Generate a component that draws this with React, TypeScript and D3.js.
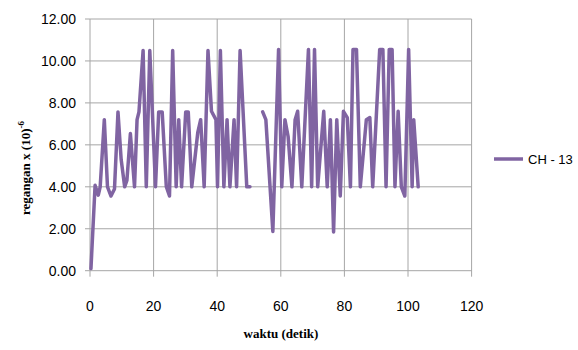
import React from "react";
import * as d3 from "d3";

const timeValues: (number)[] = [
  0.3, 1.6, 2.6, 3.2, 4.5, 5.5, 6.6, 7.7, 8.8, 9.8, 10.9, 11.6, 12.7, 14.0, 14.8, 15.4, 16.7, 17.7, 18.8,
  20.6, 21.6, 22.7, 24.0, 25.0, 26.0, 27.1, 27.9, 28.8, 30.1, 30.9, 32.0, 33.9, 34.8, 35.9, 37.1, 38.2,
  39.6, 40.1, 41.0, 42.1, 43.1, 44.0, 45.3, 46.1, 47.2, 49.3, 50.3, 52.0,
  54.3, 55.3, 57.5, 59.3, 60.3, 61.3, 62.3, 63.5, 64.5, 65.3, 66.6, 68.7, 69.7, 70.6, 71.6, 73.5, 74.6,
  75.6, 76.6, 77.6, 78.7, 79.7, 80.9, 81.9, 82.7, 83.8, 85.0, 86.9, 88.0, 88.9, 91.1, 92.1, 93.1, 94.1,
  95.0, 95.9, 96.9, 97.9, 99.0, 100.2, 101.3, 101.8, 103.2,
];

const strainValues: (number | null)[] = [
  0.1, 4.07, 3.6, 4.0, 7.2, 4.0, 3.56, 3.9, 7.57, 5.3, 4.0, 4.3, 6.54, 4.0, 7.2, 7.57, 10.5, 4.0, 10.5,
  4.0, 7.57, 7.57, 4.0, 3.56, 10.5, 4.0, 7.2, 4.0, 7.57, 7.57, 4.0, 6.6, 7.2, 4.0, 10.5, 7.6,
  7.2, 4.0, 10.5, 4.0, 7.2, 4.0, 7.2, 4.0, 10.5, 4.0, 4.0, null,
  7.57, 7.2, 1.87, 10.55, 4.0, 7.2, 6.4, 4.0, 7.2, 7.6, 4.0, 10.55, 4.0, 10.55, 4.0, 7.6, 4.0,
  7.2, 1.85, 7.2, 3.56, 7.6, 7.3, 4.0, 10.55, 10.55, 4.0, 7.2, 7.3, 4.0, 10.55, 10.55, 4.0, 10.55,
  10.55, 4.0, 7.6, 4.0, 3.56, 10.55, 4.0, 7.2, 4.0,
];

const xTicks = [0, 20, 40, 60, 80, 100, 120];
const yTicks = [0, 2, 4, 6, 8, 10, 12];
const seriesName = "CH - 13";
const xTitle = "waktu (detik)";

export default function App() {
  const width = 578;
  const height = 350;
  const left = 90;
  const right = 471.6;
  const top = 19;
  const bottom = 270.7;

  const x = d3.scaleLinear().domain([0, 120]).range([left, right]);
  const y = d3.scaleLinear().domain([0, 12]).range([bottom, top]);

  const data = timeValues.map((t, i) => ({ t, v: strainValues[i] }));
  const line = d3
    .line<{ t: number; v: number | null }>()
    .defined((d) => d.v != null)
    .x((d) => x(d.t))
    .y((d) => y(d.v as number));

  const gridColor = "#a6a6a6";
  const purple = "#8064a2";
  const sans = "'Liberation Sans', Arial, sans-serif";
  const serif = "'Liberation Serif', 'Times New Roman', serif";

  return (
    <svg
      width={width}
      height={height}
      style={{ position: "absolute", left: 0, top: 0, background: "#fff" }}
    >
      {yTicks.map((t) => (
        <g key={"y" + t}>
          <line x1={left - 5} x2={right} y1={y(t)} y2={y(t)} stroke={gridColor} strokeWidth={1} />
          <text x={left - 14} y={y(t) + 5} textAnchor="end" fontFamily={sans} fontSize={14} fill="#000">
            {t.toFixed(2)}
          </text>
        </g>
      ))}
      {xTicks.map((t) => (
        <g key={"x" + t}>
          <line x1={x(t)} x2={x(t)} y1={top} y2={bottom + 6} stroke={gridColor} strokeWidth={1} />
          <text x={x(t)} y={311} textAnchor="middle" fontFamily={sans} fontSize={14} fill="#000">
            {t}
          </text>
        </g>
      ))}
      <path d={line(data) || ""} fill="none" stroke={purple} strokeWidth={3.5} strokeLinejoin="round" strokeLinecap="round" />
      <text
        x={281}
        y={338}
        textAnchor="middle"
        fontFamily={serif}
        fontWeight="bold"
        fontSize={13}
        fill="#000"
      >
        {xTitle}
      </text>
      <text
        transform={`translate(30, 168) rotate(-90)`}
        textAnchor="middle"
        fontFamily={serif}
        fontWeight="bold"
        fontSize={13}
        fill="#000"
      >
        regangan x (10)
        <tspan dy={-6} fontSize={9}>-6</tspan>
      </text>
      <line x1={494} x2={523} y1={159} y2={159} stroke={purple} strokeWidth={3.5} />
      <text x={528} y={164} fontFamily={sans} fontSize={13} fill="#000">
        {seriesName}
      </text>
    </svg>
  );
}
